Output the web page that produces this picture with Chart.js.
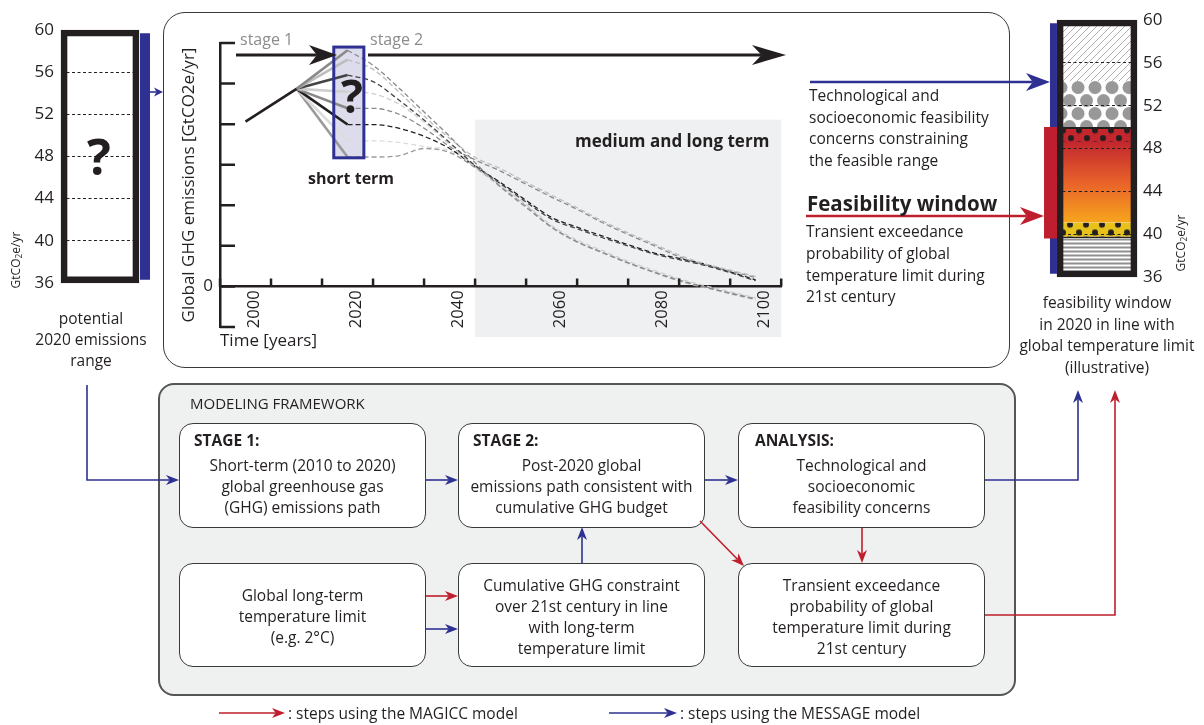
<!DOCTYPE html>
<html>
<head>
<meta charset="utf-8">
<script src="https://cdn.jsdelivr.net/npm/chart.js@4.4.1/dist/chart.umd.min.js"></script>
<style>
  html, body { margin: 0; padding: 0; background: #fff; }
  #page { position: relative; width: 1204px; height: 725px; overflow: hidden;
          font-family: "Open Sans", sans-serif; color: #231f20; }
  .frame { position: absolute; box-sizing: border-box; }
  .box { position: absolute; box-sizing: border-box; background: #fff;
         border: 1.6px solid #3a3a3a; border-radius: 14px; }
  .t { position: absolute; white-space: nowrap; }
  canvas { position: absolute; }
  svg { position: absolute; left: 0; top: 0; }
</style>
</head>
<body>
<div id="page">
  <div class="frame" style="left:163px;top:12px;width:847px;height:356px;border:1.6px solid #3a3a3a;border-radius:22px"></div>
  <div class="frame" style="left:158px;top:383px;width:858px;height:313px;border:2px solid #555;border-radius:16px;background:#eff0f0"></div>
  <div class="box" style="left:179px;top:423px;width:247px;height:105px"></div>
  <div class="box" style="left:458px;top:423px;width:247px;height:105px"></div>
  <div class="box" style="left:738px;top:423px;width:247px;height:105px"></div>
  <div class="box" style="left:179px;top:563px;width:247px;height:104px"></div>
  <div class="box" style="left:458px;top:563px;width:247px;height:104px"></div>
  <div class="box" style="left:738px;top:563px;width:247px;height:104px"></div>

  <canvas id="emissions" width="640" height="380" style="left:165px;top:14px"></canvas>
  <canvas id="potential" width="160" height="300" style="left:0;top:0"></canvas>
  <canvas id="window" width="204" height="300" style="left:1000px;top:0"></canvas>
  <svg id="arrows" width="1204" height="725"></svg>
</div>

<script>
(function () {
  "use strict";

  // ---- emissions pathways, GtCO2e/yr ----
  var histYears = [2000, 2010];
  var histValues = [40.6, 48.7];
  var shortYears = [2010, 2020];
  var shortEnd2020 = [58.2, 55.9, 52.1, 48.0, 43.9, 39.9, 35.9, 31.9];
  var pathYears = [2020, 2025, 2030, 2035, 2040, 2045, 2050, 2055, 2060, 2065, 2070, 2075, 2080, 2085, 2090, 2095, 2100];
  var path1 = [58.2, 54.5, 49.0, 43.0, 37.0, 30.5, 24.5, 19.5, 14.6, 11.0, 8.3, 5.8, 3.5, 1.4, -0.2, -1.7, -3.2];
  var path2 = [55.9, 53.5, 48.0, 42.0, 36.5, 31.8, 29.0, 25.7, 22.5, 19.4, 16.1, 13.2, 10.5, 7.7, 5.6, 4.0, 2.5];
  var path3 = [52.1, 50.5, 46.0, 41.0, 35.5, 29.8, 25.3, 20.8, 16.6, 14.2, 12.0, 10.0, 8.0, 6.6, 5.2, 3.4, 1.4];
  var path4 = [48.0, 47.5, 45.0, 40.5, 35.0, 29.5, 24.9, 20.2, 15.0, 11.4, 8.8, 6.2, 4.0, 1.9, 0.2, -1.3, -2.8];
  var path5 = [43.9, 43.9, 42.5, 39.0, 34.5, 31.2, 28.4, 25.2, 22.0, 19.0, 15.7, 12.8, 10.1, 7.3, 5.3, 3.8, 2.2];
  var path6 = [39.9, 39.9, 39.0, 37.0, 34.0, 29.6, 25.6, 21.2, 17.0, 14.6, 12.4, 10.3, 8.3, 6.9, 5.5, 3.6, 1.6];
  var path7 = [35.9, 35.9, 35.5, 34.5, 33.5, 29.8, 24.4, 19.6, 14.4, 10.8, 8.2, 5.6, 3.4, 1.3, -0.3, -1.9, -3.4];
  var path8 = [31.9, 31.9, 32.2, 34.0, 33.0, 29.3, 24.6, 19.8, 14.6, 11.0, 8.4, 5.8, 3.6, 1.6, -0.1, -1.6, -3.0];
  var pathShades = ["#8a8a8a", "#bdbdbd", "#444444", "#cfcfcf", "#8a8a8a", "#231f20", "#dcdcdc", "#9a9a9a"];
  var xTickLabels = [2000, 2020, 2040, 2060, 2080, 2100];
  var yTickLabels = [0];

  // ---- 2020 range scales, GtCO2e/yr ----
  var rangeTicks = [36, 40, 44, 48, 52, 56, 60];
  var potentialRange = [36, 60];
  var potentialBar = [36.3, 59.7];
  var windowLow = [54.3, 50.0, 48.6, 41.1, 39.6, 36.0];
  var windowHigh = [60.0, 54.3, 50.0, 48.6, 41.1, 39.6];
  var windowFill = ["hatch", "circles", "redDots", "gradient", "yellowDots", "stripes"];
  var feasibleRange = [39.6, 50.0];
  var technicalRange = [36.3, 59.7];

  var INK = "#231f20", BLUE = "#2e3192", RED = "#be1e2d";
  var FONT = '"Open Sans", sans-serif';
  Chart.defaults.font.family = FONT;
  Chart.defaults.color = INK;

  var page = document.getElementById("page");

  // ---------- main emissions chart ----------
  var shading = { from: 2045, to: 2105, top: 41.1, bottom: -12.5 };
  var shortBox = { from: 2017.3, to: 2023.2, top: 59.0, bottom: 31.7 };

  var emissionsDecor = {
    id: "emissionsDecor",
    beforeDraw: function (chart) {
      var ctx = chart.ctx, x = chart.scales.x, y = chart.scales.y;
      ctx.save();
      ctx.fillStyle = "#eff0f1";
      ctx.fillRect(x.getPixelForValue(shading.from), y.getPixelForValue(shading.top),
        x.getPixelForValue(shading.to) - x.getPixelForValue(shading.from),
        y.getPixelForValue(shading.bottom) - y.getPixelForValue(shading.top));
      ctx.fillStyle = "rgba(46, 49, 146, 0.17)";
      ctx.fillRect(x.getPixelForValue(shortBox.from), y.getPixelForValue(shortBox.top),
        x.getPixelForValue(shortBox.to) - x.getPixelForValue(shortBox.from),
        y.getPixelForValue(shortBox.bottom) - y.getPixelForValue(shortBox.top));
      ctx.restore();
    },
    afterDatasetsDraw: function (chart) {
      var ctx = chart.ctx, x = chart.scales.x, y = chart.scales.y;
      ctx.save();
      ctx.strokeStyle = BLUE;
      ctx.lineWidth = 3;
      ctx.strokeRect(x.getPixelForValue(shortBox.from), y.getPixelForValue(shortBox.top),
        x.getPixelForValue(shortBox.to) - x.getPixelForValue(shortBox.from),
        y.getPixelForValue(shortBox.bottom) - y.getPixelForValue(shortBox.top));
      ctx.restore();
    },
    afterDraw: function (chart) {
      // tick marks point into the plot
      var ctx = chart.ctx, x = chart.scales.x, y = chart.scales.y, area = chart.chartArea;
      var y0 = y.getPixelForValue(0);
      ctx.save();
      ctx.strokeStyle = INK;
      ctx.lineWidth = 2.5;
      ctx.beginPath();
      y.ticks.forEach(function (t) {
        var py = y.getPixelForValue(t.value);
        ctx.moveTo(area.left, py);
        ctx.lineTo(area.left + 15, py);
      });
      x.ticks.forEach(function (t) {
        if (t.value % 10 !== 5) return;
        var px = x.getPixelForValue(t.value);
        ctx.moveTo(px, y0);
        ctx.lineTo(px, y0 - 8);
      });
      ctx.stroke();
      ctx.restore();
    }
  };

  var datasets = [];
  datasets.push({
    data: histYears.map(function (yr, i) { return { x: yr, y: histValues[i] }; }),
    borderColor: INK, borderWidth: 2.6
  });
  shortEnd2020.forEach(function (v, i) {
    datasets.push({
      data: [{ x: shortYears[0], y: histValues[1] }, { x: shortYears[1], y: v }],
      borderColor: pathShades[i], borderWidth: 2.6
    });
  });
  [path1, path2, path3, path4, path5, path6, path7, path8].forEach(function (vals, i) {
    datasets.push({
      data: pathYears.map(function (yr, j) { return { x: yr, y: vals[j] }; }),
      borderColor: pathShades[i], borderWidth: 1.3, borderDash: [5, 3],
      cubicInterpolationMode: "monotone"
    });
  });

  new Chart(document.getElementById("emissions"), {
    type: "line",
    data: { datasets: datasets },
    plugins: [emissionsDecor],
    options: {
      responsive: false,
      animation: false,
      events: [],
      elements: { point: { radius: 0 }, line: { fill: false } },
      layout: { padding: { left: 10, right: 8, top: 29, bottom: 67 } },
      plugins: { legend: { display: false }, tooltip: { enabled: false } },
      scales: {
        x: {
          type: "linear",
          position: { y: 0 },
          min: 1995,
          max: 2105,
          grid: { display: false, drawTicks: false },
          border: { color: INK, width: 2.5 },
          ticks: {
            stepSize: 5,
            autoSkip: false,
            minRotation: 90,
            maxRotation: 90,
            padding: 4,
            labelOffset: 9,
            color: INK,
            font: { size: 16.5 },
            callback: function (v) { return xTickLabels.indexOf(v) >= 0 ? String(v) : ""; }
          },
          title: { display: true, text: "Time [years]", align: "start", color: INK, font: { size: 17 } },
          afterFit: function (s) { s.height = 69; }
        },
        y: {
          min: -10,
          max: 60,
          grid: { display: false, drawTicks: false },
          border: { color: INK, width: 2.5 },
          ticks: {
            stepSize: 10,
            padding: 7,
            color: INK,
            font: { size: 17 },
            callback: function (v) { return yTickLabels.indexOf(v) >= 0 ? String(v) : ""; }
          },
          title: { display: true, text: "Global GHG emissions [GtCO2e/yr]", color: INK, font: { size: 17 } },
          afterFit: function (s) { s.width = 45; }
        }
      }
    }
  });

  // ---------- side range scales ----------
  function tile(w, h, draw) {
    var c = document.createElement("canvas");
    c.width = w; c.height = h;
    draw(c.getContext("2d"), w, h);
    return c;
  }
  function dots(bg, rowA, rowB) {
    return tile(16, 14, function (g, w, h) {
      g.fillStyle = bg; g.fillRect(0, 0, w, h);
      g.fillStyle = INK;
      [rowA, rowB].forEach(function (p) {
        [-w, 0, w].forEach(function (off) {
          g.beginPath(); g.arc(p[0] + off, p[1], 3, 0, Math.PI * 2); g.fill();
        });
      });
    });
  }
  var tiles = {
    hatch: tile(7, 7, function (g, w, h) {
      g.fillStyle = "#fff"; g.fillRect(0, 0, w, h);
      g.strokeStyle = "#9b9b9b"; g.lineWidth = 0.8;
      g.beginPath();
      g.moveTo(-1, h + 1); g.lineTo(w + 1, -1);
      g.moveTo(-1, 1); g.lineTo(1, -1);
      g.moveTo(w - 1, h + 1); g.lineTo(w + 1, h - 1);
      g.stroke();
    }),
    circles: tile(17, 26, function (g, w, h) {
      g.fillStyle = "#fff"; g.fillRect(0, 0, w, h);
      g.fillStyle = "#989898";
      [[0, 6.5], [17, 6.5], [8.5, 19.5], [8.5, -6.5], [0, 32.5], [17, 32.5]].forEach(function (p) {
        g.beginPath(); g.arc(p[0], p[1], 6.5, 0, Math.PI * 2); g.fill();
      });
    }),
    redDots: dots("#c1272d", [2, 3.3], [10, 11]),
    yellowDots: dots("#e7c21d", [9, 2.3], [2, 10]),
    stripes: tile(4, 4, function (g, w, h) {
      g.fillStyle = "#fff"; g.fillRect(0, 0, w, h);
      g.fillStyle = "#8f8f8f"; g.fillRect(0, 0, w, 2);
    })
  };

  function segmentFill(c) {
    var chart = c.chart, area = chart.chartArea;
    if (!area || c.dataIndex === undefined) return "rgba(0,0,0,0)";
    var y = chart.scales.y, ctx = chart.ctx;
    var top = y.getPixelForValue(windowHigh[c.dataIndex]);
    var bottom = y.getPixelForValue(windowLow[c.dataIndex]);
    var kind = windowFill[c.dataIndex];
    if (kind === "gradient") {
      var g = ctx.createLinearGradient(0, top, 0, bottom);
      g.addColorStop(0, "#c1272d");
      g.addColorStop(0.5, "#e8612a");
      g.addColorStop(1, "#f7a51c");
      return g;
    }
    var p = ctx.createPattern(tiles[kind], "repeat");
    p.setTransform(new DOMMatrix([1, 0, 0, 1, area.left + 4, top]));
    return p;
  }
  function segmentBorder(c) {
    var kind = windowFill[c.dataIndex];
    if (kind === "redDots") return { top: 2, bottom: 0, left: 0, right: 0 };
    if (kind === "yellowDots") return { top: 0, bottom: 2, left: 0, right: 0 };
    return 0;
  }

  function rangeAxis(side) {
    return {
      position: side,
      min: 36,
      max: 60,
      afterBuildTicks: function (s) { s.ticks = rangeTicks.map(function (v) { return { value: v }; }); },
      grid: {
        z: 1, drawTicks: false, lineWidth: 1,
        color: function (c) { return (c.tick && (c.tick.value === 36 || c.tick.value === 60)) ? "rgba(0,0,0,0)" : INK; }
      },
      border: { display: false, dash: [3, 2.5] },
      ticks: { padding: side === "left" ? 7 : 6, color: INK, font: { size: 17 } },
      afterFit: function (s) { s.width = side === "left" ? 61 : 40; }
    };
  }
  var hiddenX = {
    type: "linear", display: false, min: 0, max: 1,
    afterBuildTicks: function (s) { s.ticks = []; }
  };
  var quiet = { legend: { display: false }, tooltip: { enabled: false } };

  new Chart(document.getElementById("potential"), {
    type: "bar",
    data: {
      datasets: [
        { data: [{ x: 0.5, y: potentialRange }], backgroundColor: "rgba(0,0,0,0)", borderColor: INK,
          borderWidth: 6, borderSkipped: false, barThickness: 78, grouped: false, order: 1, clip: false },
        { type: "line", data: [{ x: 1.077, y: potentialBar[0] }, { x: 1.077, y: potentialBar[1] }],
          borderColor: BLUE, borderWidth: 10, pointRadius: 0, order: 0, clip: false }
      ]
    },
    options: {
      responsive: false, animation: false, events: [],
      layout: { padding: { left: 0, right: 21, top: 30, bottom: 13 } },
      plugins: quiet,
      scales: { x: hiddenX, y: rangeAxis("left") }
    }
  });

  new Chart(document.getElementById("window"), {
    type: "bar",
    data: {
      datasets: [
        { type: "line", data: [{ x: -0.081, y: feasibleRange[0] }, { x: -0.081, y: feasibleRange[1] }],
          borderColor: RED, borderWidth: 13, pointRadius: 0, order: 0, clip: false },
        { type: "line", data: [{ x: -0.044, y: technicalRange[0] }, { x: -0.044, y: technicalRange[1] }],
          borderColor: BLUE, borderWidth: 7, pointRadius: 0, order: 1, clip: false },
        { data: [{ x: 0.5, y: [36, 60] }], backgroundColor: "rgba(0,0,0,0)", borderColor: INK,
          borderWidth: 6, borderSkipped: false, barThickness: 80, grouped: false, order: 2, clip: false },
        { data: windowLow.map(function (lo, i) { return { x: 0.5, y: [lo, windowHigh[i]] }; }),
          backgroundColor: segmentFill, borderColor: INK, borderWidth: segmentBorder, borderSkipped: false,
          barThickness: 80, grouped: false, order: 3, clip: false, inflateAmount: 0 }
      ]
    },
    options: {
      responsive: false, animation: false, events: [],
      layout: { padding: { left: 57, right: 27, top: 20, bottom: 23 } },
      plugins: quiet,
      scales: { x: hiddenX, y: rangeAxis("right") }
    }
  });

  // ---------- text ----------
  function put(lines, x, y, o) {
    o = o || {};
    var size = o.size || 15.5, lh = o.lh || 21, align = o.align || "left";
    var d = document.createElement("div");
    d.className = "t";
    d.style.fontSize = size + "px";
    d.style.lineHeight = lh + "px";
    d.style.fontWeight = o.bold ? "700" : "400";
    if (o.color) d.style.color = o.color;
    d.style.top = (y - lh / 2) + "px";
    d.style.textAlign = align;
    if (align === "center") { d.style.left = (x - 200) + "px"; d.style.width = "400px"; }
    else if (align === "right") { d.style.left = (x - 400) + "px"; d.style.width = "400px"; }
    else d.style.left = x + "px";
    d.innerHTML = lines.join("<br>");
    page.appendChild(d);
  }
  function putRot(html, cx, cy, size) {
    var d = document.createElement("div");
    d.className = "t";
    d.style.left = cx + "px";
    d.style.top = cy + "px";
    d.style.fontSize = size + "px";
    d.style.lineHeight = "1";
    d.style.transform = "translate(-50%, -50%) rotate(-90deg)";
    d.innerHTML = html;
    page.appendChild(d);
  }
  var unit = 'GtCO<sub style="font-size:0.7em;vertical-align:-0.25em">2</sub>e/yr';

  put(["stage 1"], 240, 39, { size: 16, color: "#8c8c8c" });
  put(["stage 2"], 370, 39, { size: 16, color: "#8c8c8c" });
  put(["?"], 352, 95, { size: 46, lh: 46, bold: true, align: "center" });
  put(["short term"], 351, 178, { size: 16, bold: true, align: "center" });
  put(["medium and long term"], 575, 140, { size: 17, bold: true });

  put(["?"], 99, 156, { size: 50, lh: 50, bold: true, align: "center" });
  put(["potential", "2020 emissions", "range"], 91, 318, { align: "center" });
  putRot(unit, 17, 260, 12);
  putRot(unit, 1182, 243, 12);
  put(["feasibility window", "in 2020 in line with", "global temperature limit", "(illustrative)"], 1107, 303, { align: "center", lh: 21.5 });

  put(["Technological and", "socioeconomic feasibility", "concerns constraining", "the feasible range"], 809, 96, { lh: 21.5 });
  put(["Feasibility window"], 807, 203, { size: 20.5, bold: true, lh: 26 });
  put(["Transient exceedance", "probability of global", "temperature limit during", "21st century"], 806, 232, { lh: 21.7 });

  put(["MODELING FRAMEWORK"], 190, 403, { size: 15 });
  put(["STAGE 1:"], 194, 440, { bold: true });
  put(["Short-term (2010 to 2020)", "global greenhouse gas", "(GHG) emissions path"], 302.5, 465, { align: "center" });
  put(["STAGE 2:"], 473, 440, { bold: true });
  put(["Post-2020 global", "emissions path consistent with", "cumulative GHG budget"], 581.5, 465, { align: "center" });
  put(["ANALYSIS:"], 755, 440, { bold: true });
  put(["Technological and", "socioeconomic", "feasibility concerns"], 861.5, 465, { align: "center" });
  put(["Global long-term", "temperature limit", "(e.g. 2°C)"], 302.5, 595, { align: "center" });
  put(["Cumulative GHG constraint", "over 21st century in line", "with long-term", "temperature limit"], 581.5, 585, { align: "center" });
  put(["Transient exceedance", "probability of global", "temperature limit during", "21st century"], 861.5, 585, { align: "center" });

  put([": steps using the MAGICC model"], 288, 713, { size: 15.5 });
  put([": steps using the MESSAGE model"], 680, 713, { size: 15.5 });

  // ---------- arrows ----------
  function arrow(pts, color, w, hl, hw) {
    var n = pts.length, a = pts[n - 2], b = pts[n - 1];
    var dx = b[0] - a[0], dy = b[1] - a[1], L = Math.hypot(dx, dy);
    var ux = dx / L, uy = dy / L, nx = -uy, ny = ux;
    var bx = b[0] - ux * hl, by = b[1] - uy * hl;
    var notch = [b[0] - ux * hl * 0.72, b[1] - uy * hl * 0.72];
    var line = pts.slice(0, n - 1).concat([notch]);
    var d = "M" + line.map(function (p) { return p[0] + "," + p[1]; }).join(" L");
    var head = [b, [bx + nx * hw, by + ny * hw], notch, [bx - nx * hw, by - ny * hw]];
    return '<path d="' + d + '" fill="none" stroke="' + color + '" stroke-width="' + w + '"/>' +
      '<polygon points="' + head.map(function (p) { return p[0] + "," + p[1]; }).join(" ") + '" fill="' + color + '"/>';
  }
  var svg = "";
  svg += arrow([[236, 55], [337, 55]], INK, 3, 28, 10);
  svg += arrow([[368, 55], [786, 55]], INK, 3, 34, 10);
  svg += arrow([[150, 92], [163, 92]], BLUE, 1.6, 9, 4.5);
  svg += arrow([[810, 82], [1050, 82]], BLUE, 2.6, 24, 9);
  svg += arrow([[806, 216], [1044, 216]], RED, 2.6, 24, 9);
  svg += arrow([[87, 385], [87, 480], [179, 480]], BLUE, 1.6, 13, 5);
  svg += arrow([[426, 480], [458, 480]], BLUE, 1.6, 13, 5);
  svg += arrow([[705, 480], [738, 480]], BLUE, 1.6, 13, 5);
  svg += arrow([[985, 480], [1078, 480], [1078, 390]], BLUE, 1.6, 13, 5);
  svg += arrow([[985, 615], [1115, 615], [1115, 390]], RED, 1.6, 13, 5);
  svg += arrow([[426, 596], [458, 596]], RED, 1.6, 13, 5);
  svg += arrow([[426, 629], [458, 629]], BLUE, 1.6, 13, 5);
  svg += arrow([[582, 563], [582, 527]], BLUE, 1.6, 13, 5);
  svg += arrow([[700, 521], [744, 566]], RED, 1.6, 13, 5);
  svg += arrow([[862, 528], [862, 563]], RED, 1.6, 13, 5);
  svg += arrow([[219, 713], [285, 713]], RED, 1.6, 13, 5);
  svg += arrow([[609, 713], [677, 713]], BLUE, 1.6, 13, 5);
  document.getElementById("arrows").innerHTML = svg;
})();
</script>
</body>
</html>
